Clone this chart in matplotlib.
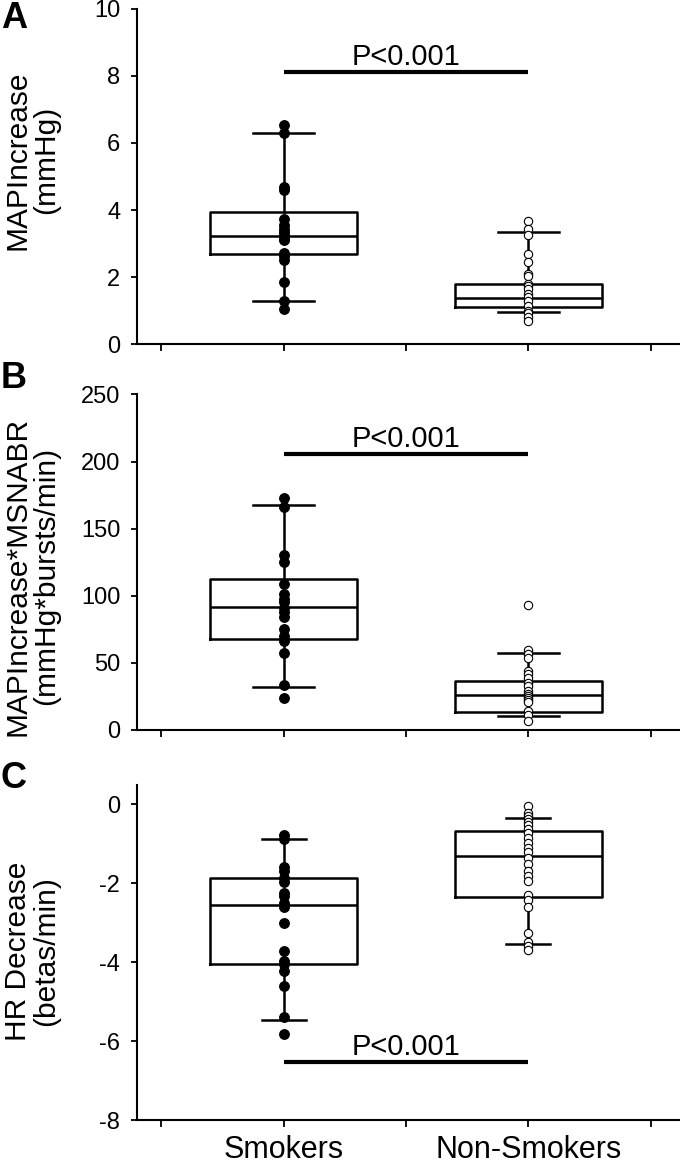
import matplotlib
matplotlib.use("Agg")
import matplotlib.pyplot as plt

plt.rcParams['font.family'] = ['Liberation Sans', 'DejaVu Sans']
plt.rcParams['axes.unicode_minus'] = False

groups = ['Smokers', 'Non-Smokers']

# A: MAP increase (mmHg)
map_smk = [6.52, 6.30, 4.70, 4.60, 3.72, 3.55, 3.45, 3.35, 3.25, 3.15, 3.10,
           2.72, 2.62, 2.50, 1.85, 1.30, 1.05]
map_non = [3.66, 3.45, 3.25, 2.70, 2.45, 2.10, 2.02, 1.80, 1.75, 1.65, 1.50,
           1.42, 1.28, 1.15, 1.00, 0.92, 0.82, 0.70]
# whislo, q1, median, q3, whishi
map_box_smk = [1.30, 2.68, 3.24, 3.94, 6.31]
map_box_non = [0.96, 1.11, 1.39, 1.81, 3.35]

# B: MAP increase * MSNA BR
prod_smk = [172.5, 166.5, 130.5, 125.5, 108.5, 101.5, 97.5, 95.0, 91.0, 88.0,
            84.5, 75.0, 70.0, 66.5, 57.5, 33.5, 24.0]
prod_non = [92.8, 59.5, 56.5, 54.0, 44.0, 41.5, 39.0, 35.0, 32.5, 29.0, 26.5,
            25.0, 23.5, 22.0, 20.5, 14.0, 11.5, 6.5]
prod_box_smk = [31.8, 68.0, 92.0, 112.5, 167.3]
prod_box_non = [10.4, 13.6, 26.2, 36.2, 57.3]

# C: HR decrease (beats/min)
hr_smk = [-0.78, -0.87, -1.60, -1.68, -1.86, -1.98, -2.25, -2.33, -2.50, -2.60,
          -3.01, -3.71, -3.98, -4.05, -4.22, -4.61, -5.39, -5.82]
hr_non = [-0.04, -0.22, -0.30, -0.38, -0.45, -0.52, -0.62, -0.72, -0.85, -0.97,
          -1.10, -1.22, -1.35, -1.52, -1.69, -1.82, -1.95, -2.29, -2.42, -2.60,
          -3.26, -3.48, -3.60, -3.70]
hr_box_smk = [-5.46, -4.05, -2.54, -1.86, -0.89]
hr_box_non = [-3.53, -2.35, -1.31, -0.69, -0.36]

pvals = ['P<0.001', 'P<0.001', 'P<0.001']
pbar_y = [8.12, 205.6, -6.52]


def box_stats(s):
    return dict(whislo=s[0], q1=s[1], med=s[2], q3=s[3], whishi=s[4], fliers=[])


panels = [
    dict(letter='A', label='MAPIncrease\n(mmHg)', smk=map_smk, non=map_non,
         bsmk=map_box_smk, bnon=map_box_non, ylim=(0, 10), yticks=range(0, 11, 2),
         cap=0.25, lab_y=160, let_y=19),
    dict(letter='B', label='MAPIncrease*MSNABR\n(mmHg*bursts/min)', smk=prod_smk, non=prod_non,
         bsmk=prod_box_smk, bnon=prod_box_non, ylim=(0, 250), yticks=range(0, 251, 50),
         cap=0.25, lab_y=576, let_y=379),
    dict(letter='C', label='HR Decrease\n(betas/min)', smk=hr_smk, non=hr_non,
         bsmk=hr_box_smk, bnon=hr_box_non, ylim=(-8, 0.5), yticks=range(-8, 1, 2),
         cap=0.18, lab_y=951, let_y=778),
]

W, H = 680, 1165
fig = plt.figure(figsize=(W / 100, H / 100), dpi=100)
bottoms = [0.7045, 0.3734, 0.0386]
line_kw = dict(color='black', linewidth=1.8)

for i, p in enumerate(panels):
    ax = fig.add_axes([0.2015, bottoms[i], 0.7985, 0.288])
    ax.bxp([box_stats(p['bsmk']), box_stats(p['bnon'])], positions=[1, 2],
           widths=0.6, capwidths=p['cap'], showfliers=False,
           boxprops=line_kw, whiskerprops=line_kw, capprops=line_kw,
           medianprops=line_kw, manage_ticks=False)
    ax.plot([1] * len(p['smk']), p['smk'], 'o', ms=7, mfc='black', mec='black',
            mew=0.8, zorder=3, clip_on=False)
    ax.plot([2] * len(p['non']), p['non'], 'o', ms=6, mfc='white', mec='black',
            mew=0.8, zorder=3, clip_on=False)

    # significance bar
    ax.plot([1, 2], [pbar_y[i]] * 2, color='black', lw=3, solid_capstyle='butt')
    ax.annotate(pvals[i], xy=(1.5, pbar_y[i]), xytext=(0, 5), textcoords='offset points',
                ha='center', va='baseline', fontsize=21)

    ax.set_xlim(0.4, 2.62)
    ax.set_ylim(*p['ylim'])
    ax.set_yticks(list(p['yticks']))
    ax.set_xticks([0.5, 1, 1.5, 2, 2.5])
    if i == 2:
        ax.set_xticklabels(['', groups[0], '', groups[1], ''], fontsize=22)
    else:
        ax.set_xticklabels([])
    for s in ['top', 'right']:
        ax.spines[s].set_visible(False)
    for s in ['left', 'bottom']:
        ax.spines[s].set_linewidth(1.5)
    ax.tick_params(axis='y', direction='out', length=4, width=1.3, labelsize=17, pad=8)
    ax.tick_params(axis='x', direction='out', length=5, width=1.3, pad=6)

    fig.text(32 / W, 1 - p['lab_y'] / H, p['label'], rotation=90, ha='center',
             va='center', fontsize=21.5, linespacing=1.0, multialignment='center')
    fig.text(14 / W, 1 - p['let_y'] / H, p['letter'], ha='center', va='center',
             fontsize=26, fontweight='bold')

fig.savefig('out.png', dpi=100)
